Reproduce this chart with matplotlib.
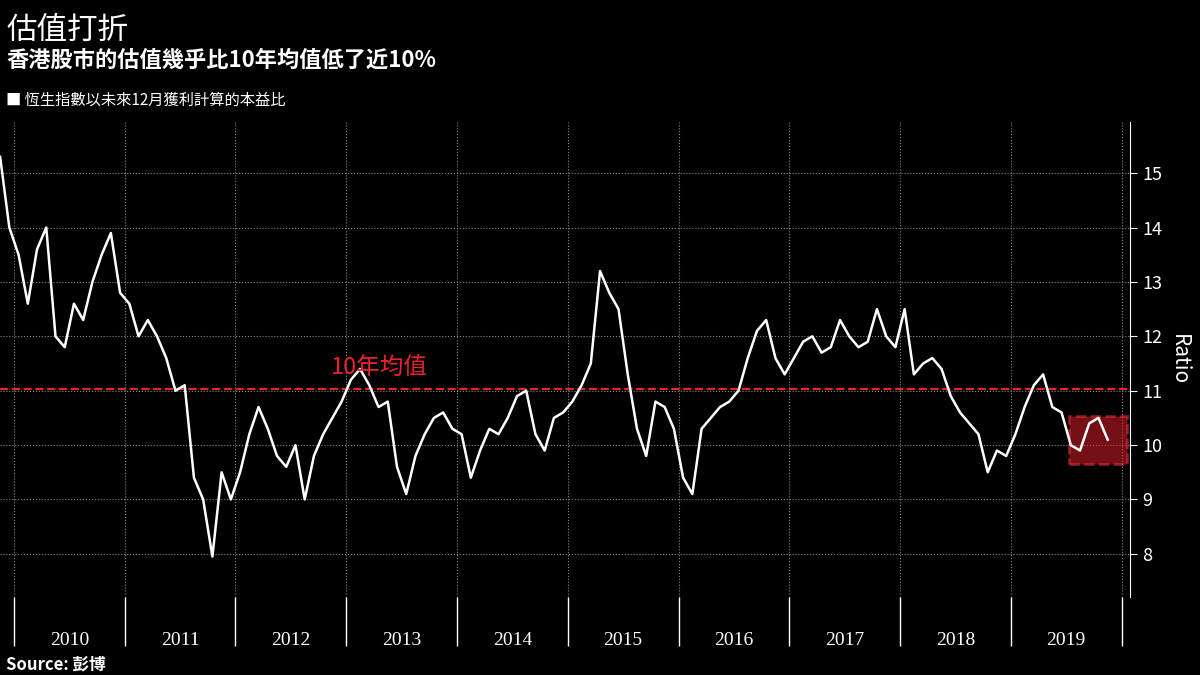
import numpy as np
import matplotlib.pyplot as plt
from matplotlib.patches import Rectangle
from matplotlib import font_manager

cjk = [f.name for f in font_manager.fontManager.ttflist if 'CJK' in f.name]
plt.rcParams['font.family'] = sorted(set(cjk))[:1] + ['DejaVu Sans']

# monthly P/E readings, Nov 2009 .. Nov 2019
start_val = [15.3, 14.0]
pe_2010 = [13.5, 12.6, 13.6, 14.0, 12.0, 11.8, 12.6, 12.3, 13.0, 13.5, 13.9, 12.8]
pe_2011 = [12.6, 12.0, 12.3, 12.0, 11.6, 11.0, 11.1, 9.4, 9.0, 7.95, 9.5, 9.0]
pe_2012 = [9.5, 10.2, 10.7, 10.3, 9.8, 9.6, 10.0, 9.0, 9.8, 10.2, 10.5, 10.8]
pe_2013 = [11.2, 11.4, 11.1, 10.7, 10.8, 9.6, 9.1, 9.8, 10.2, 10.5, 10.6, 10.3]
pe_2014 = [10.2, 9.4, 9.9, 10.3, 10.2, 10.5, 10.9, 11.0, 10.2, 9.9, 10.5, 10.6]
pe_2015 = [10.8, 11.1, 11.5, 13.2, 12.8, 12.5, 11.3, 10.3, 9.8, 10.8, 10.7, 10.3]
pe_2016 = [9.4, 9.1, 10.3, 10.5, 10.7, 10.8, 11.0, 11.6, 12.1, 12.3, 11.6, 11.3]
pe_2017 = [11.6, 11.9, 12.0, 11.7, 11.8, 12.3, 12.0, 11.8, 11.9, 12.5, 12.0, 11.8]
pe_2018 = [12.5, 11.3, 11.5, 11.6, 11.4, 10.9, 10.6, 10.4, 10.2, 9.5, 9.9, 9.8]
pe_2019 = [10.2, 10.7, 11.1, 11.3, 10.7, 10.6, 10.0, 9.9, 10.4, 10.5, 10.1]
years = ['2010', '2011', '2012', '2013', '2014', '2015', '2016', '2017', '2018', '2019']
avg_10y = 11.04

values = np.array(start_val + pe_2010 + pe_2011 + pe_2012 + pe_2013 + pe_2014 +
                  pe_2015 + pe_2016 + pe_2017 + pe_2018 + pe_2019)
t = 2009 + 10.5 / 12 + np.arange(len(values)) / 12

bg = 'black'
fig = plt.figure(figsize=(12, 6.75), dpi=100, facecolor=bg)
ax = fig.add_axes([0.0, 0.115, 0.942, 0.705], facecolor=bg)
ax.plot(t, values, color='white', lw=1.8, zorder=3)
ax.axhline(avg_10y, color='#e8212b', ls='--', lw=1.6)
ax.text(2013.3, avg_10y + 0.25, '10年均值', color='#e8212b', fontsize=17, ha='center')
ax.add_patch(Rectangle((2019.53, 9.65), 0.52, 0.88, facecolor='#e8212b', alpha=0.5,
                       edgecolor='#ff3340', ls='--', lw=2, zorder=2))

ax.set_xlim(2009.874, 2020.08)
ax.set_ylim(7.2, 15.95)
ax.yaxis.tick_right()
ax.yaxis.set_label_position('right')
ax.set_yticks(range(8, 16))
ax.tick_params(axis='y', colors='white', labelsize=13, length=5)
ax.set_ylabel('Ratio', color='white', fontsize=15, rotation=270, labelpad=20)
ax.set_xticks(np.arange(2010, 2021))
ax.set_xticklabels([])
ax.tick_params(axis='x', colors='white', length=35, width=1)
for i, y in enumerate(years):
    ax.text(2010.5 + i, -0.09, y, transform=ax.get_xaxis_transform(),
            color='white', fontsize=14, ha='center', va='center', family='Liberation Serif')
ax.grid(True, color='#888888', ls=':', lw=0.8)
for s in ['top', 'left', 'bottom']:
    ax.spines[s].set_visible(False)
ax.spines['right'].set_color('white')

fig.text(0.005, 0.955, '估值打折', color='white', fontsize=22, va='center')
fig.text(0.005, 0.91, '香港股市的估值幾乎比10年均值低了近10%', color='white', fontsize=16,
         weight='bold', va='center')
fig.text(0.005, 0.852, '■ 恆生指數以未來12月獲利計算的本益比', color='white', fontsize=11, va='center')
fig.text(0.005, 0.016, 'Source: 彭博', color='white', fontsize=12, weight='bold', va='center')

fig.savefig('out.png', facecolor=bg)
